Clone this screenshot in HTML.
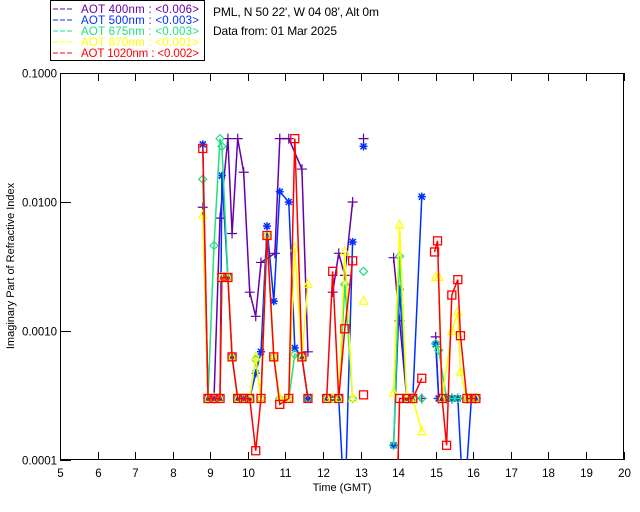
<!DOCTYPE html>
<html><head><meta charset="utf-8"><style>
body{margin:0;background:#fff;}
svg{display:block;font-family:"Liberation Sans",sans-serif;}
</style></head><body>
<svg id="chart" width="640" height="512" viewBox="0 0 640 512">
<defs><clipPath id="plotclip"><rect x="60" y="73" width="564" height="387"/></clipPath></defs>
<g>
<rect x="50.5" y="0.5" width="154" height="60" fill="#fff" stroke="#000"/>
<g font-size="11.5">
<line x1="53" y1="9" x2="74" y2="9" stroke="#6600aa" stroke-dasharray="5,2"/><text x="81" y="13" fill="#6600aa" textLength="118">AOT  400nm : &lt;0.006&gt;</text>
<line x1="53" y1="20" x2="74" y2="20" stroke="#0030ff" stroke-dasharray="5,2"/><text x="81" y="24" fill="#0030ff" textLength="118">AOT  500nm : &lt;0.003&gt;</text>
<line x1="53" y1="31" x2="74" y2="31" stroke="#20e080" stroke-dasharray="5,2"/><text x="81" y="35" fill="#20e080" textLength="118">AOT  675nm : &lt;0.003&gt;</text>
<line x1="53" y1="42" x2="74" y2="42" stroke="#ffff00" stroke-dasharray="5,2"/><text x="81" y="46" fill="#ffff00" textLength="118">AOT  870nm : &lt;0.001&gt;</text>
<line x1="53" y1="53" x2="74" y2="53" stroke="#ff0000" stroke-dasharray="5,2"/><text x="81" y="57" fill="#ff0000" textLength="118">AOT 1020nm : &lt;0.002&gt;</text>
</g></g>
<text x="213" y="16" font-size="12" textLength="166">PML, N 50 22', W 04 08', Alt 0m</text>
<text x="213" y="35" font-size="12" textLength="124">Data from: 01 Mar 2025</text>
<rect x="60.5" y="73.5" width="563" height="386" fill="none" stroke="#000"/>
<g id="axes"></g>
<g id="series" clip-path="url(#plotclip)"></g>
<text x="342" y="491" font-size="11" text-anchor="middle">Time (GMT)</text>
<text x="0" y="0" font-size="11" text-anchor="middle" transform="translate(14,266) rotate(-90)">Imaginary Part of Refractive Index</text>
</svg>
<script>
const xTicks=[5,6,7,8,9,10,11,12,13,14,15,16,17,18,19,20];
const yTicks=[0.0001,0.001,0.01,0.1];
const yTickLabels=["0.0001","0.0010","0.0100","0.1000"];
const N=null;
const t400=[8.80,8.94,9.10,9.26,9.47,9.58,9.73,9.89,10.05,10.21,10.35,10.72,10.85,11.09,11.44,11.60,N,12.26,12.42,12.58,12.79,N,13.08,N,13.88,14.04,14.23,14.39,14.63,N,15.0,15.08,15.29,15.43,15.59,15.83,16.07];
const v400=[0.0091,0.0003,0.0003,0.0075,0.031,0.0057,0.031,0.017,0.0020,0.0013,0.0034,0.0040,0.031,0.031,0.018,0.00069,N,0.0020,0.0040,0.0027,0.010,N,0.031,N,0.0037,0.0012,0.0003,0.0003,0.0003,N,0.0009,0.0003,0.0003,0.0003,0.0003,0.0003,0.0003];
const t500=[8.80,8.94,9.10,9.26,9.31,9.47,9.58,9.73,9.89,10.05,10.21,10.35,10.51,10.69,10.85,11.09,11.25,11.44,11.60,N,12.10,12.26,12.42,12.58,12.79,N,13.08,N,13.88,14.04,14.23,14.39,14.63,N,15.0,15.08,15.17,15.29,15.43,15.59,15.75,15.95,16.07];
const v500=[0.028,0.0003,0.0003,0.0003,0.016,0.0026,0.00063,0.0003,0.0003,0.0003,0.00047,0.00069,0.0065,0.0017,0.012,0.010,0.00074,0.00063,0.0003,N,0.0003,0.0003,0.0003,0.00004,0.0049,N,0.027,N,0.00013,0.0021,0.0003,0.0003,0.011,N,0.00079,0.0003,0.0003,0.0003,0.0003,0.0003,0.00004,0.0003,0.0003];
const t675=[8.80,8.94,9.10,9.26,9.31,9.47,9.58,9.73,9.89,10.05,10.21,10.35,10.51,10.69,10.85,11.09,11.25,11.44,11.60,N,12.10,12.26,12.42,12.58,12.79,N,13.08,N,13.88,14.04,14.23,14.39,14.63,N,15.0,15.08,15.29,15.43,15.59,15.83,15.95,16.07];
const v675=[0.015,0.0003,0.0046,0.031,0.027,0.0026,0.00063,0.0003,0.0003,0.0003,0.0006,0.0003,0.0055,0.00063,0.0003,0.0003,0.00066,0.00063,0.0003,N,0.0003,0.0003,0.0003,0.0023,0.0003,N,0.0029,N,0.00013,0.0038,0.0003,0.0003,0.0003,N,0.0008,0.00071,0.0003,0.0003,0.0003,0.0003,0.0003,0.0003];
const t870=[8.80,8.94,9.10,9.26,9.31,9.47,9.58,9.73,9.89,10.05,10.21,10.35,10.51,10.69,10.85,11.09,11.25,11.44,11.60,N,12.10,12.26,12.42,12.58,12.79,N,13.08,N,13.88,14.04,14.23,14.39,14.63,N,15.0,15.08,15.17,15.43,15.59,15.66,15.83,16.07];
const v870=[0.0079,0.0003,0.0003,0.0003,0.0026,0.0026,0.00063,0.0003,0.0003,0.0003,0.00063,0.0003,0.0055,0.00063,0.0003,0.0003,0.0044,0.00063,0.0023,N,0.0003,0.0003,0.0003,0.0041,0.0003,N,0.0017,N,0.00033,0.0066,0.0003,0.0003,0.000166,N,0.0026,0.0026,0.0003,0.00099,0.0014,0.00048,0.0003,0.0003];
const t1020=[8.80,8.94,9.10,9.26,9.31,9.47,9.58,9.73,9.89,10.05,10.21,10.35,10.51,10.69,10.85,11.09,11.25,11.44,11.60,N,12.10,12.26,12.42,12.58,12.79,N,13.08,N,13.97,14.04,14.23,14.39,14.63,N,14.97,15.05,15.17,15.29,15.43,15.59,15.66,15.83,15.95,16.07];
const v1020=[0.026,0.0003,0.0003,0.0003,0.0026,0.0026,0.00063,0.0003,0.0003,0.0003,0.000118,0.0003,0.0055,0.00063,0.00027,0.0003,0.031,0.00063,0.0003,N,0.0003,0.0029,0.0003,0.00104,0.0035,N,0.00032,N,0.00005,0.0003,0.0003,0.0003,0.00043,N,0.0041,0.0050,0.0003,0.00013,0.0019,0.0025,0.00092,0.0003,0.0003,0.0003];

const X0=60,X1=623.5,Y0=460,Y1=73;
function xs(t){return X0+(t-5)/15*(X1-X0);}
function ys(v){return Y0-(Math.log10(v)+4)/3*(Y0-Y1);}
const NS="http://www.w3.org/2000/svg";
function mk(tag,attrs,parent){const e=document.createElementNS(NS,tag);for(const k in attrs)e.setAttribute(k,attrs[k]);parent.appendChild(e);return e;}
const axes=document.getElementById('axes');
xTicks.forEach(function(t){
  const x=Math.round(xs(t))+0.5;
  const tk=mk('path',{d:'M'+x+' 460V452M'+x+' 73V81',stroke:'#000',fill:'none'},axes);
  
  
  const lb=mk('text',{x:x,y:477,'font-size':11.5,'text-anchor':'middle'},axes);
  lb.textContent=t;
  
  
});
yTicks.forEach(function(v,i){
  const y=Math.round(ys(v))+0.5;
  const tk=mk('path',{d:'M60 '+y+'H71',stroke:'#000',fill:'none'},axes);
  
  
  const lb=mk('text',{x:22,y:y+4,'font-size':11.5,textLength:35},axes);
  lb.textContent=yTickLabels[i];
  
  
});
const sg=document.getElementById('series');
function marker(kind,x,y,c,g){
  let e;
  if(kind==='plus')e=mk('path',{d:'M'+(x-5)+' '+y+'H'+(x+5)+'M'+x+' '+(y-5)+'V'+(y+5),stroke:c,fill:'none','stroke-width':1.2},g);
  else if(kind==='star')e=mk('path',{d:'M'+(x-4)+' '+y+'H'+(x+4)+'M'+x+' '+(y-4)+'V'+(y+4)+'M'+(x-3)+' '+(y-3)+'L'+(x+3)+' '+(y+3)+'M'+(x-3)+' '+(y+3)+'L'+(x+3)+' '+(y-3),stroke:c,fill:'none','stroke-width':1.5},g);
  else if(kind==='diamond')e=mk('path',{d:'M'+x+' '+(y-4)+'L'+(x+4)+' '+y+'L'+x+' '+(y+4)+'L'+(x-4)+' '+y+'Z',stroke:c,fill:'none','stroke-width':1.2},g);
  else if(kind==='tri')e=mk('path',{d:'M'+x+' '+(y-5)+'L'+(x+4)+' '+(y+3)+'L'+(x-4)+' '+(y+3)+'Z',stroke:c,fill:'none','stroke-width':1.2},g);
  else e=mk('rect',{x:x-4,y:y-4,width:8,height:8,stroke:c,fill:'none','stroke-width':1.3},g);
  
  
}
function drawSeries(ts,vs,c,kind,name){
  const g=mk('g',{},sg);
  
  
  let d='',pen=false;
  for(let i=0;i<ts.length;i++){
    if(ts[i]===null||vs[i]===null){pen=false;continue;}
    d+=(pen?'L':'M')+xs(ts[i]).toFixed(1)+' '+ys(vs[i]).toFixed(1);pen=true;
  }
  const p=mk('path',{d:d,stroke:c,fill:'none','stroke-width':1.5},g);
  
  
  for(let i=0;i<ts.length;i++){
    if(ts[i]===null||vs[i]===null)continue;
    marker(kind,xs(ts[i]),ys(vs[i]),c,g);
  }
}
drawSeries(t400,v400,'#6600aa','plus','series-400nm');
drawSeries(t500,v500,'#0030ff','star','series-500nm');
drawSeries(t675,v675,'#20e080','diamond','series-675nm');
drawSeries(t870,v870,'#ffff00','tri','series-870nm');
drawSeries(t1020,v1020,'#ff0000','square','series-1020nm');
</script>
</body></html>
